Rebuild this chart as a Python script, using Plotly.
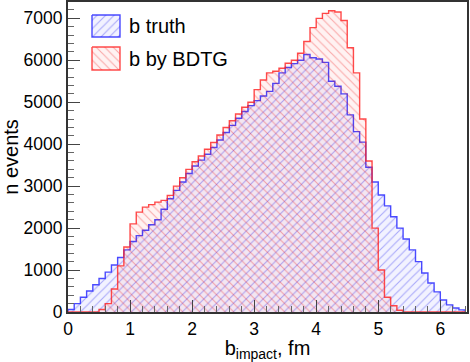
import numpy as np
import plotly.graph_objects as go

# histogram contents, 0.1 fm bins starting at 0
bin_width = 0.1
b_truth = [60, 200, 350, 500, 650, 800, 950, 1120, 1300, 1480,
           1680, 1820, 1950, 2080, 2200, 2450, 2700, 2900, 3100, 3300,
           3480, 3620, 3760, 3920, 4100, 4280, 4450, 4620, 4780, 4920,
           5040, 5150, 5260, 5450, 5700, 5830, 5920, 6000, 6140, 6060,
           6030, 5950, 5500, 5380, 5200, 4700, 4300, 4050, 3450, 3100,
           2790, 2530, 2270, 2000, 1740, 1480, 1200, 930, 690, 480,
           285, 170, 95, 50]
b_bdtg = [0, 0, 0, 0, 0, 60, 200, 550, 1100, 1550,
          2100, 2380, 2500, 2560, 2620, 2660, 2780, 3000, 3200, 3400,
          3580, 3720, 3880, 4040, 4220, 4400, 4560, 4720, 4880, 5000,
          5300, 5530, 5700, 5740, 5810, 5930, 6000, 6170, 6450, 6780,
          7000, 7120, 7180, 7150, 6950, 6300, 5700, 4600, 3600, 2000,
          1000, 350, 150, 40, 0, 0, 0, 0, 0, 0,
          0, 0, 0, 0]
series_names = ["b truth", "b by BDTG"]

x_ticks = [0, 1, 2, 3, 4, 5, 6]
y_ticks = [0, 1000, 2000, 3000, 4000, 5000, 6000, 7000]

FONT = "Liberation Sans, Arial, sans-serif"
BLUE = dict(line="rgba(30,30,255,0.8)", fg="rgba(0,0,235,0.6)", bg="rgba(0,0,255,0.05)", shape="/")
RED = dict(line="rgba(255,30,30,0.8)", fg="rgba(235,0,0,0.6)", bg="rgba(255,0,0,0.05)", shape="\\")


def step_xy(counts):
    edges = np.arange(len(counts) + 1) * bin_width
    x = [edges[0]] + list(edges)
    y = [0] + list(counts) + [0]
    return x, y


def hatched(x, y, style, name, **kw):
    return go.Scatter(
        x=x, y=y, name=name, mode="lines", showlegend=False,
        line=dict(color=style["line"], width=1.4),
        fill=kw.pop("fill", "tozeroy"), fillcolor=style["bg"],
        fillpattern=dict(shape=style["shape"], fgcolor=style["fg"], bgcolor=style["bg"],
                         size=6, solidity=0.18),
        **kw)


fig = go.Figure()

for counts, style, name in [(b_truth, BLUE, series_names[0]), (b_bdtg, RED, series_names[1])]:
    xs, ys = step_xy(counts)
    fig.add_trace(hatched(xs, ys, style, name, line_shape="hv"))

# legend drawn by hand (ROOT-like boxes), in pixel units of the frame
legend_rows = [(15, 37), (47, 70)]
for (y0, y1), style, name in zip(legend_rows, [BLUE, RED], series_names):
    fig.add_trace(hatched([92, 120, 120, 92, 92], [y0, y0, y1, y1, y0], style, name,
                          fill="toself", xaxis="x2", yaxis="y2", hoverinfo="skip"))
    fig.add_annotation(x=127, y=(y0 + y1) / 2, xref="x2", yref="y2", text=name,
                       showarrow=False, xanchor="left", yanchor="middle",
                       font=dict(size=20, family=FONT))

fig.update_layout(
    width=470, height=362,
    margin=dict(l=68, r=3, t=2, b=50),
    paper_bgcolor="white", plot_bgcolor="white",
    font=dict(family=FONT, color="black", size=17.5),
    showlegend=False,
    xaxis2=dict(overlaying="x", range=[68, 467], visible=False),
    yaxis2=dict(overlaying="y", range=[312, 2], visible=False),
    xaxis=dict(
        range=[0, 6.43], tickvals=x_ticks, ticks="inside", ticklen=12,
        tickcolor="#444", showgrid=False, zeroline=False, automargin=False,
        showline=True, linecolor="#333", linewidth=2, mirror=True,
        minor=dict(dtick=0.2, ticks="inside", ticklen=6, tickcolor="#666"),
        title=dict(text="b<sub>impact</sub>, fm", font=dict(size=20), standoff=2),
    ),
    yaxis=dict(
        range=[0, 7390], tickvals=y_ticks, ticks="inside", ticklen=12,
        tickcolor="#444", showgrid=False, zeroline=False, automargin=False,
        showline=True, linecolor="#333", linewidth=2, mirror=True,
        minor=dict(dtick=200, ticks="inside", ticklen=6, tickcolor="#666"),
        title=dict(text="n events", font=dict(size=20), standoff=2),
    ),
)

fig.write_html("out.html", config={"displayModeBar": False},
               post_script="document.body.style.margin='0';")
